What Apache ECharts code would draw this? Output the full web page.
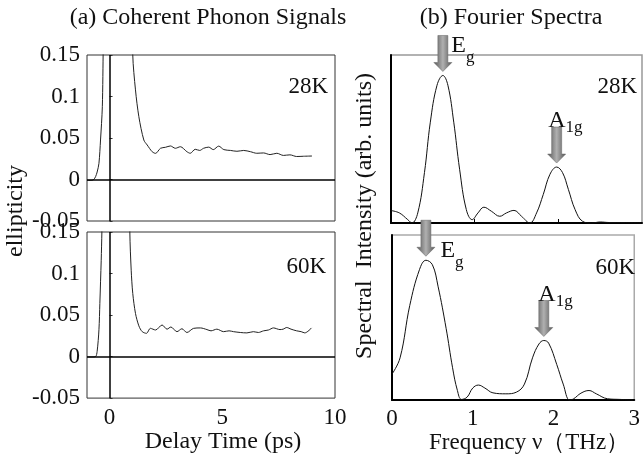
<!DOCTYPE html>
<html>
<head>
<meta charset="utf-8">
<script src="https://cdn.jsdelivr.net/npm/echarts@6/dist/echarts.min.js"></script>
<style>
html,body{margin:0;padding:0;background:#fff;}
#chart{width:643px;height:455px;}
</style>
</head>
<body>
<div id="chart"></div>
<script>
// ---- data ----
const leftYTicks = [-0.05, 0, 0.05, 0.1, 0.15];
const leftXTicks = [0, 5, 10];
const rightXTicks = [0, 1, 2, 3];
const tempLabels = ['28K', '60K'];

const time28 = [-1, -0.8, -0.7, -0.62, -0.55, -0.47, -0.4, -0.32, -0.28, -0.2, 0.3, 0.8, 1.03, 1.15, 1.3, 1.52, 1.67, 1.89, 2.04, 2.26, 2.48, 2.7, 2.92, 3.14, 3.43, 3.58, 3.8, 4.0, 4.17, 4.4, 4.6, 4.84, 5.07, 5.37, 5.65, 5.95, 6.25, 6.53, 6.83, 7.12, 7.42, 7.71, 8.0, 8.3, 8.6, 8.98];
const ell28 = [-0.001, -0.001, 0.0, 0.0034, 0.009, 0.0195, 0.0476, 0.0877, 0.16, 0.3, 0.9, 0.5, 0.15, 0.108, 0.0757, 0.0476, 0.0416, 0.0335, 0.0315, 0.0376, 0.0388, 0.0404, 0.0376, 0.0395, 0.0335, 0.0316, 0.0364, 0.035, 0.0376, 0.039, 0.036, 0.0402, 0.036, 0.035, 0.034, 0.035, 0.0335, 0.0316, 0.032, 0.030, 0.0316, 0.029, 0.0297, 0.0277, 0.028, 0.0283];

const time60 = [-1, -0.8, -0.62, -0.55, -0.47, -0.43, -0.37, -0.34, -0.2, 0.3, 0.8, 0.9, 0.96, 1.03, 1.15, 1.3, 1.45, 1.64, 1.81, 2.04, 2.33, 2.55, 2.72, 2.99, 3.21, 3.43, 3.73, 4.03, 4.32, 4.5, 4.76, 5.06, 5.3, 5.5, 5.8, 6.09, 6.38, 6.6, 6.83, 7.05, 7.27, 7.56, 7.7, 7.86, 8.05, 8.3, 8.5, 8.66, 8.96];
const ell60 = [-0.0004, -0.0004, 0.0, 0.0063, 0.0323, 0.064, 0.116, 0.15, 0.35, 0.9, 0.4, 0.15, 0.104, 0.076, 0.052, 0.037, 0.030, 0.028, 0.034, 0.032, 0.038, 0.033, 0.0356, 0.030, 0.0335, 0.029, 0.034, 0.0345, 0.0325, 0.031, 0.033, 0.030, 0.031, 0.030, 0.029, 0.0285, 0.030, 0.029, 0.031, 0.032, 0.0345, 0.0325, 0.033, 0.035, 0.033, 0.031, 0.030, 0.0285, 0.0345];

const freq28 = [0, 0.1, 0.2, 0.25, 0.32, 0.4, 0.47, 0.55, 0.62, 0.68, 0.75, 0.82, 0.9, 0.97, 1.04, 1.11, 1.2, 1.3, 1.38, 1.47, 1.56, 1.66, 1.74, 1.82, 1.9, 1.98, 2.05, 2.12, 2.2, 2.29, 2.4, 2.5, 2.6, 2.8, 3.0];
const spec28 = [0.074, 0.06, 0.02, 0.0, 0.06, 0.3, 0.6, 0.82, 0.878, 0.82, 0.6, 0.32, 0.08, 0.02, 0.06, 0.094, 0.07, 0.04, 0.06, 0.075, 0.04, 0.0, 0.06, 0.17, 0.29, 0.333, 0.3, 0.2, 0.08, 0.01, 0.0, 0.006, 0.003, 0.002, 0.0];

const freq60 = [0, 0.1, 0.22, 0.34, 0.42, 0.5, 0.57, 0.67, 0.75, 0.81, 0.86, 0.93, 1.0, 1.07, 1.15, 1.25, 1.41, 1.54, 1.64, 1.74, 1.82, 1.88, 1.94, 2.04, 2.12, 2.2, 2.25, 2.34, 2.44, 2.53, 2.67, 2.83, 2.99];
const spec60 = [0.157, 0.256, 0.573, 0.79, 0.847, 0.82, 0.69, 0.435, 0.196, 0.058, 0.004, 0.018, 0.073, 0.091, 0.073, 0.044, 0.038, 0.048, 0.097, 0.256, 0.34, 0.361, 0.345, 0.216, 0.097, 0.0, 0.008, 0.042, 0.058, 0.038, 0.008, 0.004, 0.0];

const modes28 = [{main: 'E', sub: 'g', freq: 0.62}, {main: 'A', sub: '1g', freq: 1.98}];
const modes60 = [{main: 'E', sub: 'g', freq: 0.42}, {main: 'A', sub: '1g', freq: 1.88}];

// ---- build ----
const SERIF = '"Liberation Serif", "Times New Roman", serif';
const pairs = (xs, ys) => xs.map((x, i) => [x, ys[i]]);

function peakAt(xs, ys, f) {
  let best = 0, bd = Infinity;
  xs.forEach((x, i) => { const d = Math.abs(x - f); if (d < bd) { bd = d; best = i; } });
  return [xs[best], ys[best]];
}

const arrowPath = 'path://M4,0 L14,0 L14,27 L18,27 L9,36 L0,27 L4,27 Z';
const arrowFill = new echarts.graphic.LinearGradient(0, 0, 1, 0, [
  {offset: 0, color: '#555'}, {offset: 0.5, color: '#b0b0b0'}, {offset: 1, color: '#555'}
]);

function modeMarks(xs, ys, modes, labelOffsets) {
  const out = [];
  modes.forEach((m, k) => {
    const c = peakAt(xs, ys, m.freq);
    out.push({
      coord: c, symbol: arrowPath, symbolSize: [18, 36], symbolOffset: [0, -22],
      itemStyle: {color: arrowFill, borderColor: '#666', borderWidth: 0.5},
      label: {show: false}
    });
    const subPad = m.sub.length > 1 ? 14 : 24;
    out.push({
      coord: c, symbol: 'rect', symbolSize: 1, itemStyle: {color: 'rgba(0,0,0,0)'},
      label: {
        show: true, position: labelOffsets[k], align: 'left', verticalAlign: 'middle',
        formatter: '{a|' + m.main + '}{b|' + m.sub + '}',
        rich: {
          a: {fontFamily: SERIF, fontSize: 24, color: '#111'},
          b: {fontFamily: SERIF, fontSize: 17, color: '#111', padding: [subPad, 0, 0, 0]}
        }
      }
    });
  });
  return out;
}

const zeroLines = {
  silent: true, symbol: ['none', 'none'], animation: false,
  lineStyle: {color: '#000', width: 1.5, type: 'solid'},
  label: {show: false},
  data: [{xAxis: 0}, {yAxis: 0}]
};

const labelFont = {fontFamily: SERIF, fontSize: 23, color: '#111'};

const option = {
  animation: false,
  backgroundColor: '#fff',
  grid: [
    {left: 87, top: 55, width: 248, height: 166, show: true, borderColor: '#333', borderWidth: 1},
    {left: 87, top: 232, width: 248, height: 167, show: true, borderColor: '#333', borderWidth: 1},
    {left: 391, top: 55, width: 251, height: 168, show: true, borderColor: '#999', borderWidth: 1.5},
    {left: 392, top: 235, width: 250, height: 168, show: true, borderColor: '#aaa', borderWidth: 1.5}
  ],
  xAxis: [
    {gridIndex: 0, type: 'value', min: leftXTicks[0] - 1, max: leftXTicks[leftXTicks.length - 1],
      axisLine: {show: false}, axisTick: {show: false}, axisLabel: {show: false}, splitLine: {show: false}},
    {gridIndex: 1, type: 'value', min: leftXTicks[0] - 1, max: leftXTicks[leftXTicks.length - 1],
      axisLine: {show: false}, axisTick: {show: false}, splitLine: {show: false},
      axisLabel: Object.assign({customValues: leftXTicks, margin: 8}, labelFont),
      name: 'Delay Time (ps)', nameLocation: 'middle', nameGap: 28,
      nameTextStyle: {fontFamily: SERIF, fontSize: 24, color: '#111', padding: [0, 0, 0, 24]}},
    {gridIndex: 2, type: 'value', min: rightXTicks[0], max: rightXTicks[rightXTicks.length - 1], interval: 1,
      axisLine: {show: true, onZero: false, lineStyle: {color: '#000', width: 2}},
      axisTick: {show: true, inside: true, length: 4, customValues: [1, 2], lineStyle: {color: '#000'}},
      axisLabel: {show: false}, splitLine: {show: false}},
    {gridIndex: 3, type: 'value', min: rightXTicks[0], max: rightXTicks[rightXTicks.length - 1], interval: 1,
      axisLine: {show: true, onZero: false, lineStyle: {color: '#000', width: 2}},
      axisTick: {show: false},
      axisLabel: Object.assign({customValues: rightXTicks, margin: 7}, labelFont),
      splitLine: {show: false},
      name: 'Frequency ν（THz）', nameLocation: 'middle', nameGap: 14,
      nameTextStyle: {fontFamily: SERIF, fontSize: 23, color: '#111', padding: [0, 0, 0, 32]}}
  ],
  yAxis: [
    {gridIndex: 0, type: 'value', min: leftYTicks[0], max: leftYTicks[leftYTicks.length - 1], interval: 0.05,
      axisLine: {show: false}, axisTick: {show: true, inside: true, length: 3, lineStyle: {color: '#333'}},
      axisLabel: Object.assign({margin: 7}, labelFont), splitLine: {show: false}},
    {gridIndex: 1, type: 'value', min: leftYTicks[0], max: leftYTicks[leftYTicks.length - 1], interval: 0.05,
      axisLine: {show: false}, axisTick: {show: true, inside: true, length: 3, lineStyle: {color: '#333'}},
      axisLabel: Object.assign({margin: 7}, labelFont), splitLine: {show: false}},
    {gridIndex: 2, type: 'value', min: 0, max: 1,
      axisLine: {show: true, onZero: false, lineStyle: {color: '#000', width: 2}},
      axisTick: {show: false}, axisLabel: {show: false}, splitLine: {show: false}},
    {gridIndex: 3, type: 'value', min: 0, max: 1,
      axisLine: {show: true, onZero: false, lineStyle: {color: '#000', width: 2}},
      axisTick: {show: false}, axisLabel: {show: false}, splitLine: {show: false}}
  ],
  series: [
    {type: 'line', xAxisIndex: 0, yAxisIndex: 0, data: pairs(time28, ell28), showSymbol: false, smooth: 0.3,
      lineStyle: {color: '#222', width: 1}, markLine: zeroLines},
    {type: 'line', xAxisIndex: 1, yAxisIndex: 1, data: pairs(time60, ell60), showSymbol: false, smooth: 0.3,
      lineStyle: {color: '#222', width: 1}, markLine: zeroLines},
    {type: 'line', xAxisIndex: 2, yAxisIndex: 2, data: pairs(freq28, spec28), showSymbol: false, smooth: 0.4,
      clip: false, lineStyle: {color: '#111', width: 1},
      markPoint: {animation: false, silent: true, data: modeMarks(freq28, spec28, modes28, [[9, -29], [-8, -46]])}},
    {type: 'line', xAxisIndex: 3, yAxisIndex: 3, data: pairs(freq60, spec60), showSymbol: false, smooth: 0.4,
      clip: false, lineStyle: {color: '#111', width: 1},
      markPoint: {animation: false, silent: true, data: modeMarks(freq60, spec60, modes60, [[15, -9], [-5, -45]])}}
  ],
  graphic: [
    {type: 'text', x: 208, y: 18, style: {text: '(a) Coherent Phonon Signals', font: '24px ' + SERIF, fill: '#111', textAlign: 'center', textVerticalAlign: 'middle'}},
    {type: 'text', x: 511, y: 18, style: {text: '(b) Fourier Spectra', font: '24px ' + SERIF, fill: '#111', textAlign: 'center', textVerticalAlign: 'middle'}},
    {type: 'text', x: 328, y: 87, style: {text: tempLabels[0], font: '23px ' + SERIF, fill: '#111', textAlign: 'right', textVerticalAlign: 'middle'}},
    {type: 'text', x: 326, y: 267, style: {text: tempLabels[1], font: '23px ' + SERIF, fill: '#111', textAlign: 'right', textVerticalAlign: 'middle'}},
    {type: 'text', x: 637, y: 87, style: {text: tempLabels[0], font: '23px ' + SERIF, fill: '#111', textAlign: 'right', textVerticalAlign: 'middle'}},
    {type: 'text', x: 635, y: 268, style: {text: tempLabels[1], font: '23px ' + SERIF, fill: '#111', textAlign: 'right', textVerticalAlign: 'middle'}},
    {type: 'text', x: 16, y: 211, rotation: Math.PI / 2, style: {text: 'ellipticity', font: '24px ' + SERIF, fill: '#111', textAlign: 'center', textVerticalAlign: 'middle'}},
    {type: 'text', x: 365, y: 216, rotation: Math.PI / 2, style: {text: 'Spectral  Intensity (arb. units)', font: '24px ' + SERIF, fill: '#111', textAlign: 'center', textVerticalAlign: 'middle'}}
  ]
};

const chart = echarts.init(document.getElementById('chart'), null, {renderer: 'canvas'});
chart.setOption(option);
</script>
</body>
</html>
